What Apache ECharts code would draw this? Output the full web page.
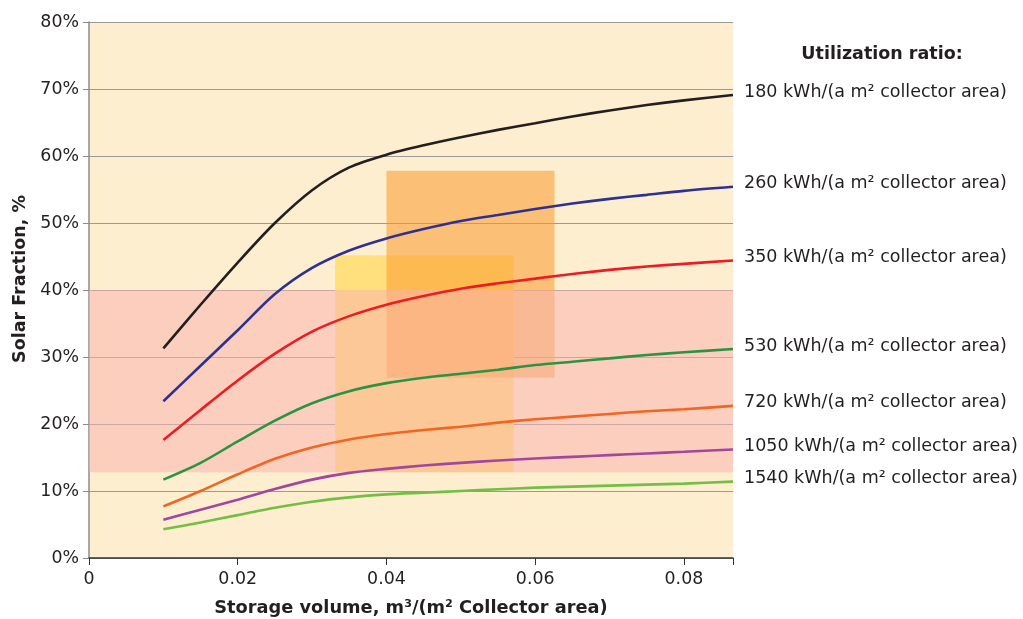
<!DOCTYPE html>
<html>
<head>
<meta charset="utf-8">
<script src="https://cdn.jsdelivr.net/npm/echarts@6/dist/echarts.min.js"></script>
<style>html,body{margin:0;padding:0;background:#fff}#c{width:1023px;height:619px}</style>
</head>
<body>
<div id="c"></div>
<script>
// Storage volume, m3/(m2 collector area)
const xValues = [0.01, 0.015, 0.02, 0.025, 0.03, 0.035, 0.04, 0.045, 0.05, 0.055, 0.06, 0.065, 0.07, 0.075, 0.08, 0.0866];
const seriesNames = [
  '180 kWh/(a m² collector area)',
  '260 kWh/(a m² collector area)',
  '350 kWh/(a m² collector area)',
  '530 kWh/(a m² collector area)',
  '720 kWh/(a m² collector area)',
  '1050 kWh/(a m² collector area)',
  '1540 kWh/(a m² collector area)'
];
// Solar fraction, %
const sf180  = [31.3, 37.8, 44.1, 50.0, 54.9, 58.3, 60.2, 61.6, 62.8, 63.9, 64.9, 65.9, 66.8, 67.6, 68.3, 69.1];
const sf260  = [23.4, 28.7, 34.0, 39.4, 43.3, 45.9, 47.7, 49.1, 50.3, 51.2, 52.1, 52.9, 53.6, 54.2, 54.8, 55.4];
const sf350  = [17.6, 22.1, 26.5, 30.5, 33.8, 36.1, 37.8, 39.1, 40.2, 41.0, 41.7, 42.4, 43.0, 43.5, 43.9, 44.4];
const sf530  = [11.7, 14.2, 17.4, 20.5, 23.1, 24.9, 26.1, 26.9, 27.5, 28.1, 28.8, 29.3, 29.8, 30.3, 30.7, 31.2];
const sf720  = [7.7, 10.0, 12.5, 14.8, 16.5, 17.7, 18.5, 19.1, 19.6, 20.2, 20.7, 21.1, 21.5, 21.9, 22.2, 22.7];
const sf1050 = [5.7, 7.2, 8.7, 10.3, 11.7, 12.7, 13.3, 13.8, 14.2, 14.55, 14.85, 15.1, 15.35, 15.6, 15.85, 16.2];
const sf1540 = [4.3, 5.3, 6.4, 7.5, 8.4, 9.05, 9.5, 9.75, 10.0, 10.25, 10.5, 10.65, 10.8, 10.95, 11.1, 11.4];
const seriesValues = [sf180, sf260, sf350, sf530, sf720, sf1050, sf1540];
const seriesColors = ['#231f20', '#2e3192', '#ed1c24', '#2b9442', '#f26522', '#a3479e', '#72bf44'];

// Highlighted regions: [x1, y1, x2, y2]
const yellowBox = [0.0331, 12.8, 0.0571, 45.2];
const orangeBox = [0.0400, 26.9, 0.0626, 57.8];
const pinkBand  = [12.8, 40.0]; // y range, full width

const xMax = 0.0866;

const chart = echarts.init(document.getElementById('c'));
const FONT = 'DejaVu Sans';

const lineSeries = seriesNames.map((name, i) => ({
  name: name,
  type: 'line',
  smooth: 0.3,
  symbol: 'none',
  z: 5,
  data: xValues.map((x, j) => [x, seriesValues[i][j]]),
  lineStyle: { color: seriesColors[i], width: 2.6 },
  itemStyle: { color: seriesColors[i] },
  endLabel: {
    show: true,
    formatter: '{a}',
    distance: 11,
    offset: [0, -3],
    color: '#231f20',
    fontFamily: FONT,
    fontSize: 17.5
  }
}));

const areaSeries = {
  type: 'line',
  data: [],
  z: 1,
  silent: true,
  markArea: {
    silent: true,
    data: [
      [{ coord: [yellowBox[0], yellowBox[1]], itemStyle: { color: 'rgb(255,224,125)' } },
       { coord: [yellowBox[2], yellowBox[3]] }],
      [{ coord: [orangeBox[0], orangeBox[1]], itemStyle: { color: 'rgba(250,154,42,0.54)' } },
       { coord: [orangeBox[2], orangeBox[3]] }],
      [{ yAxis: pinkBand[0], itemStyle: { color: 'rgba(250,180,175,0.54)' } },
       { yAxis: pinkBand[1] }]
    ]
  }
};

chart.setOption({
  animation: false,
  textStyle: { fontFamily: FONT },
  title: {
    text: 'Utilization ratio:',
    left: 877,
    top: 40,
    textAlign: 'center',
    textStyle: { fontFamily: FONT, fontWeight: 'bold', fontSize: 17.5, color: '#231f20' }
  },
  grid: {
    left: 89, right: 290, top: 22, bottom: 61,
    outerBoundsMode: 'none',
    containLabel: false,
    show: true, backgroundColor: '#fdeed0', borderWidth: 0
  },
  xAxis: {
    type: 'value',
    min: 0, max: xMax, interval: 0.02,
    name: 'Storage volume, m³/(m² Collector area)',
    nameLocation: 'middle',
    nameGap: 41,
    nameTextStyle: { fontFamily: FONT, fontWeight: 'bold', fontSize: 17.8, color: '#231f20' },
    axisLine: { show: true, lineStyle: { color: '#333', width: 1.5 } },
    axisTick: { show: true, length: 7, lineStyle: { color: '#333' } },
    axisLabel: {
      margin: 13, fontSize: 17.4, color: '#231f20', fontFamily: FONT,
      formatter: v => {
        const k = Math.round(v / 0.02);
        if (Math.abs(v - k * 0.02) > 1e-9) return '';
        return k === 0 ? '0' : (k * 0.02).toFixed(2);
      }
    },
    splitLine: { show: false }
  },
  yAxis: {
    type: 'value',
    min: 0, max: 80, interval: 10,
    name: 'Solar Fraction, %',
    nameLocation: 'middle',
    nameGap: 60,
    nameTextStyle: { fontFamily: FONT, fontWeight: 'bold', fontSize: 17.5, color: '#231f20', padding: [0, 0, 0, 22] },
    axisLine: { show: true, lineStyle: { color: '#8c8c8c', width: 1.5 } },
    axisTick: { show: true, length: 6, lineStyle: { color: '#8c8c8c' } },
    axisLabel: { margin: 10, fontSize: 17.4, color: '#231f20', fontFamily: FONT, formatter: '{value}%' },
    splitLine: { show: true, lineStyle: { color: '#9a9a9a', width: 1 } }
  },
  series: [areaSeries].concat(lineSeries)
});
</script>
</body>
</html>
